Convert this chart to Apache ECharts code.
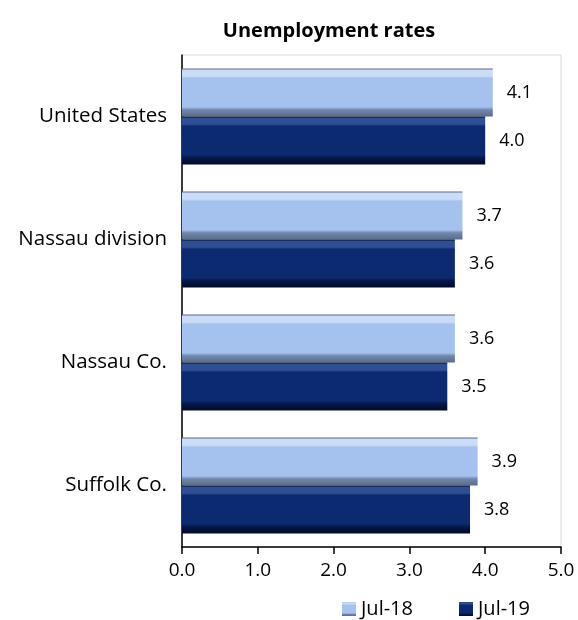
<!DOCTYPE html>
<html>
<head>
<meta charset="utf-8">
<script src="https://cdn.jsdelivr.net/npm/echarts@6/dist/echarts.min.js"></script>
<style>
  html, body { margin: 0; padding: 0; background: #fff; }
  #chart { width: 578px; height: 620px; }
</style>
</head>
<body>
<div id="chart"></div>
<script>
const regions = ['United States', 'Nassau division', 'Nassau Co.', 'Suffolk Co.']
const jul18 = [4.1, 3.7, 3.6, 3.9]
const jul19 = [4.0, 3.6, 3.5, 3.8]
const xTicks = [0, 5, 1]  // min, max, interval

const font = 'Open Sans'

// vertical gradient to fake the bevelled bars
const bevel = (hi, main, low, edge) => new echarts.graphic.LinearGradient(0, 0, 0, 1, [
  {offset: 0, color: edge},
  {offset: 0.04, color: hi},
  {offset: 0.16, color: hi},
  {offset: 0.2, color: main},
  {offset: 0.8, color: main},
  {offset: 0.86, color: low},
  {offset: 1, color: edge}
])

const labelStyle = {
  show: true,
  position: 'right',
  distance: 14,
  color: '#000',
  fontSize: 18,
  fontFamily: font,
  formatter: (p) => p.value.toFixed(1)
}

const myChart = echarts.init(document.getElementById('chart'))
myChart.setOption({
  animation: false,
  title: {
    text: 'Unemployment rates',
    left: 324,
    textAlign: 'center',
    top: 16,
    textStyle: {fontFamily: font, fontSize: 20, fontWeight: 'bold', color: '#000'}
  },
  legend: {
    left: 337,
    top: 592,
    itemGap: 46,
    itemWidth: 14,
    itemHeight: 14,
    itemTextGap: 5,
    icon: 'rect',
    textStyle: {fontFamily: font, fontSize: 20, color: '#000', lineHeight: 24},
    data: ['Jul-18', 'Jul-19']
  },
  grid: {
    left: 182,
    right: 17,
    top: 55,
    bottom: 73,
    show: true,
    borderColor: '#d9d9d9',
    borderWidth: 1
  },
  xAxis: {
    type: 'value',
    min: xTicks[0],
    max: xTicks[1],
    interval: xTicks[2],
    axisLine: {show: true, lineStyle: {color: '#000', width: 1.5}},
    axisTick: {show: true, length: 7, inside: false, lineStyle: {color: '#000', width: 1.5}},
    splitLine: {show: false},
    axisLabel: {
      color: '#000',
      fontSize: 19,
      fontFamily: font,
      margin: 14,
      formatter: (v) => v.toFixed(1)
    }
  },
  yAxis: {
    type: 'category',
    inverse: true,
    data: regions,
    axisLine: {show: true, lineStyle: {color: '#000', width: 1.5}},
    axisTick: {show: false},
    axisLabel: {color: '#000', fontSize: 20.5, fontFamily: font, margin: 15}
  },
  series: [
    {
      name: 'Jul-18',
      type: 'bar',
      data: jul18,
      barGap: '0%',
      barCategoryGap: '22%',
      itemStyle: {color: bevel('#cadcf7', '#a5c2ef', '#7288ad', '#5a6b88')},
      label: labelStyle
    },
    {
      name: 'Jul-19',
      type: 'bar',
      data: jul19,
      barGap: '0%',
      barCategoryGap: '22%',
      itemStyle: {color: bevel('#2f4f94', '#0b2a6f', '#06184a', '#020b28')},
      label: labelStyle
    }
  ]
})
</script>
</body>
</html>
